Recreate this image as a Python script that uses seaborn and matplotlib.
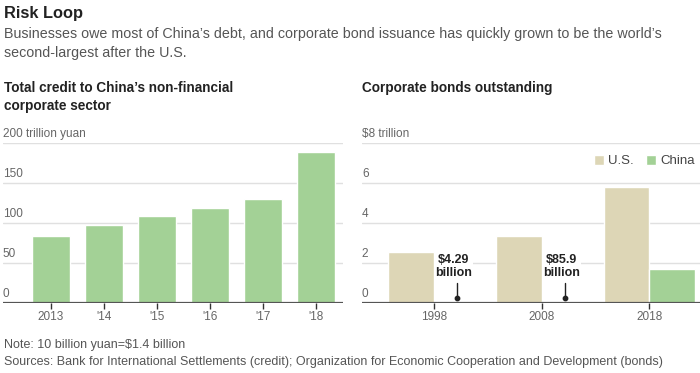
import pandas as pd
import seaborn as sns
import matplotlib.pyplot as plt
import matplotlib.transforms as mtransforms

# left chart: total credit, trillion yuan
credit_years = ['2013', "'14", "'15", "'16", "'17", "'18"]
credit_vals = [84, 97.5, 108, 118, 129.5, 189]

# right chart: corporate bonds outstanding, $ trillion
bond_years = ['1998', '2008', '2018']
us_bonds = [2.55, 3.35, 5.8]
china_bonds = [0.00429, 0.0859, 1.7]
china_notes = ['$4.29\nbillion', '$85.9\nbillion']

GREEN = '#a3d196'
TAN = '#ddd6b6'
GRID = '#e0e0e0'
TICK = '#666666'

sns.set_style('white')
plt.rcParams['font.family'] = ['Liberation Sans', 'DejaVu Sans']

fig = plt.figure(figsize=(7, 3.73), dpi=100)
ax1 = fig.add_axes([0.004, 0.188, 0.486, 0.429])
ax2 = fig.add_axes([0.517, 0.188, 0.483, 0.429])

df1 = pd.DataFrame({'year': credit_years, 'value': credit_vals})
sns.barplot(data=df1, x='year', y='value', color=GREEN, saturation=1,
            width=0.72, ax=ax1, zorder=3)

df2 = pd.DataFrame({
    'year': bond_years * 2,
    'value': us_bonds + china_bonds,
    'country': ['U.S.'] * 3 + ['China'] * 3,
})
sns.barplot(data=df2, x='year', y='value', hue='country',
            palette={'U.S.': TAN, 'China': GREEN}, saturation=1,
            width=0.85, ax=ax2, zorder=3)


def style(ax, ticks, top_label, xlim):
    ax.set_xlim(*xlim)
    ax.set_ylim(0, ticks[-1])
    ax.set_xlabel('')
    ax.set_ylabel('')
    for s in ax.spines.values():
        s.set_visible(False)
    ax.set_yticks([])
    ax.axhline(0, color='#555555', lw=1.6, zorder=4)
    for t in ticks[1:]:
        ax.axhline(t, color=GRID, lw=1, zorder=1)
    trans = mtransforms.blended_transform_factory(ax.transAxes, ax.transData)
    trans = trans + mtransforms.ScaledTranslation(0, 3 / 100, fig.dpi_scale_trans)
    for t in ticks:
        lab = top_label if t == ticks[-1] else str(t)
        ax.text(0, t, lab, transform=trans, ha='left', va='bottom',
                fontsize=8.5, color=TICK)
    ax.tick_params(axis='x', length=4, width=1, color='#333333',
                   labelsize=8.5, labelcolor=TICK, pad=2, bottom=True)


style(ax1, [0, 50, 100, 150, 200], '200 trillion yuan', (-0.906, 5.51))
style(ax2, [0, 2, 4, 6, 8], '$8 trillion', (-0.67, 2.47))

# notes for the tiny China values
off = 0.85 / 4
for i, note in enumerate(china_notes):
    xc = i + off
    ax2.plot([xc, xc], [0.22, 1.0], color='#222222', lw=1, zorder=5)
    ax2.scatter([xc], [0.22], s=10, color='#222222', zorder=6)
    ax2.text(xc - 0.03, 1.2, note, ha='center', va='bottom', fontsize=9,
             fontweight='bold', color='#222222', linespacing=1.05, zorder=6,
             bbox=dict(facecolor='white', edgecolor='none', pad=0.5))

ax2.legend(loc='upper right', bbox_to_anchor=(1.0, 0.96), ncol=2, frameon=False,
           handlelength=0.8, handleheight=0.8, handletextpad=0.3,
           columnspacing=0.9, fontsize=9.5, labelcolor='#444444', borderaxespad=0)

fig.text(0.005, 0.965, 'Risk Loop', fontsize=11.8, fontweight='bold', color='#222222', va='center')
fig.text(0.005, 0.908, 'Businesses owe most of China\u2019s debt, and corporate bond issuance has quickly grown to be the world\u2019s',
         fontsize=10.3, color='#555555', va='center')
fig.text(0.005, 0.857, 'second-largest after the U.S.', fontsize=10.3, color='#555555', va='center')
fig.text(0.005, 0.765, 'Total credit to China\u2019s non-financial', fontsize=9.8,
         fontweight='bold', color='#222222', va='center')
fig.text(0.005, 0.716, 'corporate sector', fontsize=9.8, fontweight='bold', color='#222222', va='center')
fig.text(0.517, 0.765, 'Corporate bonds outstanding', fontsize=9.8,
         fontweight='bold', color='#222222', va='center')
fig.text(0.005, 0.075, 'Note: 10 billion yuan=$1.4 billion', fontsize=9, color='#555555', va='center')
fig.text(0.005, 0.03, 'Sources: Bank for International Settlements (credit); Organization for Economic Cooperation and Development (bonds)',
         fontsize=9, color='#555555', va='center')

fig.savefig('out.png', dpi=100)
